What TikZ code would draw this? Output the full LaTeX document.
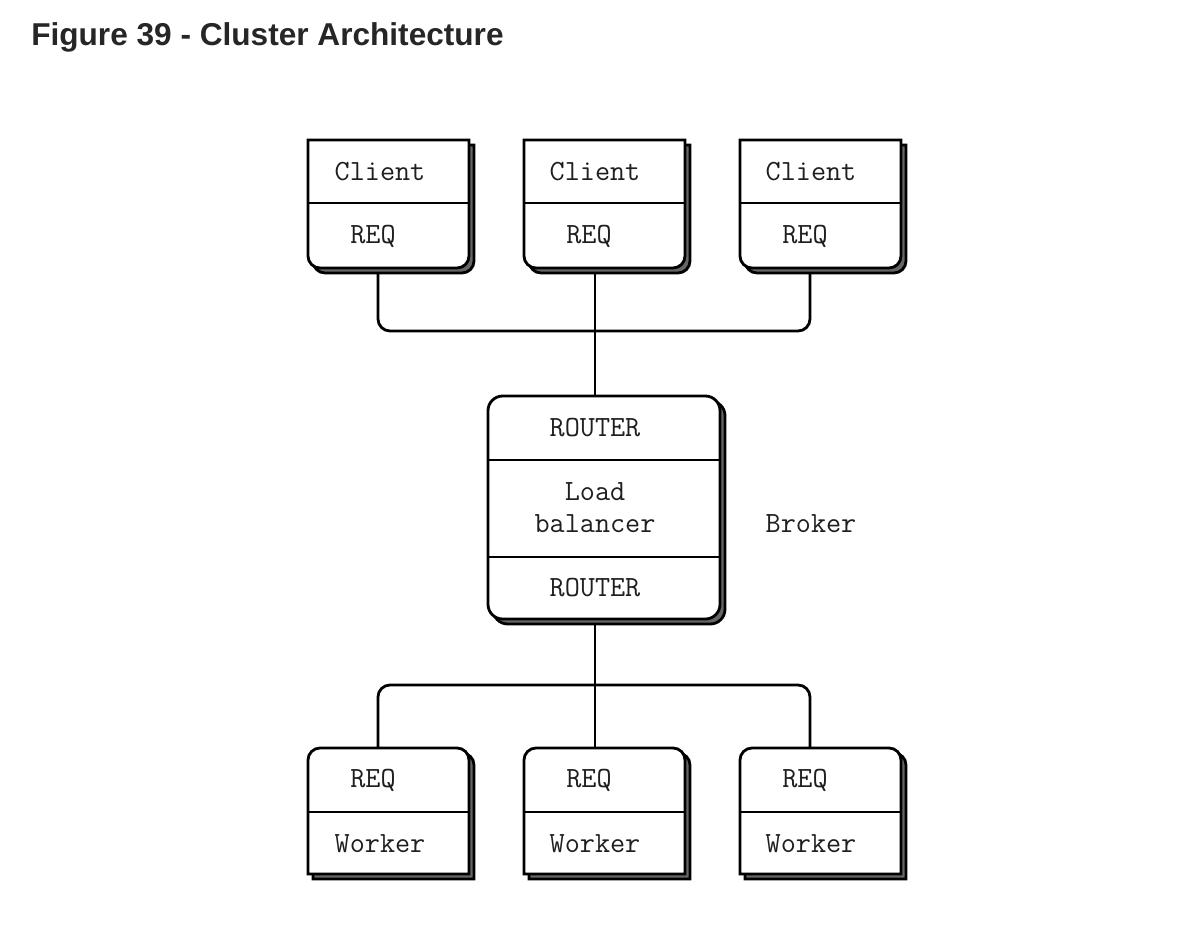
\documentclass[tikz,border=0pt]{standalone}
\usepackage{fontspec}
\newfontfamily\titlefont{Liberation Sans}
\begin{document}
\begin{tikzpicture}[x=0.75pt,y=0.75pt,
  shadowst/.style={draw=black,fill=black!60,line width=2.1pt},
  boxst/.style={draw=black,fill=white,line width=2.1pt},
  divst/.style={draw=black,line width=2.1pt},
  conn/.style={draw=black,line width=2.1pt},
  lbl/.style={font=\ttfamily\fontsize{22}{24}\selectfont,text=black!88,inner sep=0pt},
  clientbox/.pic={
    \path[shadowst] (5,-5) -- (166,-5) -- (166,-121) arc[start angle=0,end angle=-90,radius=9pt] -- (17,-133) arc[start angle=270,end angle=180,radius=9pt] -- cycle;
    \path[boxst] (0,0) -- (161,0) -- (161,-116) arc[start angle=0,end angle=-90,radius=9pt] -- (12,-128) arc[start angle=270,end angle=180,radius=9pt] -- cycle;
    \draw[divst] (0,-63) -- (161,-63);
  },
  workerbox/.pic={
    \path[shadowst] (5,-131) -- (5,-17) arc[start angle=180,end angle=90,radius=9pt] -- (154,-5) arc[start angle=90,end angle=0,radius=9pt] -- (166,-131) -- cycle;
    \path[boxst] (0,-126) -- (0,-12) arc[start angle=180,end angle=90,radius=9pt] -- (149,0) arc[start angle=90,end angle=0,radius=9pt] -- (161,-126) -- cycle;
    \draw[divst] (0,-64) -- (161,-64);
  },
  routerbox/.pic={
    \path[shadowst,rounded corners=11pt] (5,-5) rectangle (237,-228);
    \path[boxst,rounded corners=11pt] (0,0) rectangle (232,-223);
    \draw[divst] (0,-64) -- (232,-64);
    \draw[divst] (0,-161) -- (232,-161);
  }]
\useasboundingbox (0,0) rectangle (1182,-936);
\fill[white] (0,0) rectangle (1182,-936);

% title
\node[anchor=base west,inner sep=0pt,text=black!85,font=\titlefont\bfseries\fontsize{23.7}{28}\selectfont] (title) at (31,-45) {Figure 39 - Cluster Architecture};

% connector coordinates
\coordinate (c1b) at (378,-268);
\coordinate (c2b) at (595,-268);
\coordinate (c3b) at (810,-268);
\coordinate (rt) at (595,-396);
\coordinate (rb) at (595,-619);
\coordinate (w1t) at (378,-748);
\coordinate (w2t) at (595,-748);
\coordinate (w3t) at (810,-748);
\coordinate (busA) at (595,-331);
\coordinate (busB) at (595,-685);

% connectors
\draw[conn,rounded corners=9pt] (c1b) |- (busA) -| (c3b);
\draw[conn] (c2b) -- (rt);
\draw[conn,rounded corners=9pt] (w1t) |- (busB) -| (w3t);
\draw[conn] (rb) -- (w2t);

% boxes
\pic at (308,-140) {clientbox};
\pic at (524,-140) {clientbox};
\pic at (740,-140) {clientbox};
\pic at (488,-396) {routerbox};
\pic at (308,-748) {workerbox};
\pic at (524,-748) {workerbox};
\pic at (740,-748) {workerbox};

% client labels
\node[lbl] (c1n) at (380,-172) {Client};
\node[lbl] (c2n) at (595,-172) {Client};
\node[lbl] (c3n) at (811,-172) {Client};
\node[lbl] (c1r) at (373,-236) {REQ};
\node[lbl] (c2r) at (589,-236) {REQ};
\node[lbl] (c3r) at (805,-236) {REQ};

% broker labels
\node[lbl,align=center] (lb) at (595,-508) {Load\\balancer};
\node[lbl] (rtop) at (595,-428) {ROUTER};
\node[lbl] (rbot) at (595,-588) {ROUTER};
\node[lbl] (broker) at (811,-524) {Broker};

% worker labels
\node[lbl] (w1r) at (373,-780) {REQ};
\node[lbl] (w2r) at (589,-780) {REQ};
\node[lbl] (w3r) at (805,-780) {REQ};
\node[lbl] (w1n) at (380,-844) {Worker};
\node[lbl] (w2n) at (595,-844) {Worker};
\node[lbl] (w3n) at (811,-844) {Worker};
\end{tikzpicture}
\end{document}
